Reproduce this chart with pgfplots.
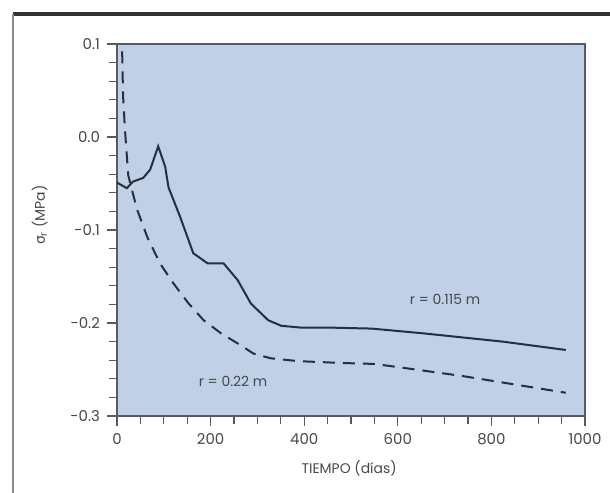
\documentclass[border=0pt]{standalone}
\usepackage{fontspec}
\setmainfont{Poppins}
\newfontfamily\greekfont{DejaVu Sans}
\usepackage{pgfplots}
\pgfplotsset{compat=1.18}

\definecolor{plotbg}{RGB}{192,208,230}
\definecolor{curve}{RGB}{40,46,62}
\definecolor{axisgray}{RGB}{85,90,100}
\definecolor{txt}{RGB}{70,72,78}

\begin{document}
\begin{tikzpicture}
\useasboundingbox (-58.5bp,-38.5bp) rectangle (246.5bp,208bp);
\draw[line width=1.6bp, black!80] (-52bp,201bp) -- (246.5bp,201bp);
\draw[line width=0.8bp, black!45] (-52bp,201bp) -- (-52bp,-38.5bp);

\begin{axis}[
    at={(0,0)}, anchor=south west,
    scale only axis,
    width=234bp, height=186bp,
    xmin=0, xmax=1000,
    ymin=-0.3, ymax=0.1,
    xtick={0,200,400,600,800,1000},
    ytick={-0.3,-0.2,-0.1,0.0,0.1},
    minor x tick num=3,
    minor y tick num=4,
    tick align=outside,
    major tick length=5bp,
    minor tick length=4bp,
    xtick pos=bottom, ytick pos=left,
    axis background/.style={fill=plotbg},
    axis line style={axisgray, line width=0.8bp},
    tick style={axisgray, line width=0.6bp},
    /pgf/number format/assume math mode=true,
    yticklabel style={/pgf/number format/.cd, fixed, fixed zerofill, precision=1},
    xticklabel style={/pgf/number format/.cd, fixed, 1000 sep={}},
    ticklabel style={font=\fontsize{7.5}{9}\selectfont, text=txt},
    xlabel={TIEMPO (días)},
    ylabel={{\greekfont σ}\textsubscript{r} (MPa)},
    xlabel style={font=\fontsize{7}{9}\selectfont, text=txt, at={(axis description cs:0.496,-0.14)}, anchor=center},
    ylabel style={font=\fontsize{7}{9}\selectfont, text=txt, at={(axis description cs:-0.165,0.54)}, anchor=center},
]

% r = 0.115 m (solid)
\addplot[curve, line width=1bp] coordinates {
    (0,-0.049) (21,-0.055) (34,-0.048) (56,-0.044) (71,-0.035)
    (88,-0.010) (103,-0.032) (110,-0.054) (135,-0.086) (163,-0.125)
    (194,-0.136) (228,-0.136) (258,-0.154) (286,-0.179) (323,-0.197)
    (351,-0.203) (394,-0.205) (458,-0.205) (544,-0.206) (652,-0.211)
    (824,-0.220) (959,-0.229)
};

% r = 0.22 m (dashed)
\addplot[curve, line width=1bp, dash pattern=on 6bp off 4bp] coordinates {
    (11,0.092) (13,0.044) (17,0.008) (24,-0.041) (32,-0.057)
    (43,-0.078) (65,-0.108) (92,-0.136) (120,-0.157) (153,-0.179)
    (185,-0.197) (222,-0.211) (258,-0.222) (292,-0.233) (329,-0.238)
    (387,-0.241) (480,-0.243) (550,-0.244) (609,-0.248) (738,-0.257)
    (959,-0.275)
};

\node[font=\fontsize{7}{9}\selectfont, text=txt] at (axis cs:701,-0.175) {r = 0.115 m};
\node[font=\fontsize{7}{9}\selectfont, text=txt] at (axis cs:248,-0.263) {r = 0.22 m};

\end{axis}
\end{tikzpicture}
\end{document}
